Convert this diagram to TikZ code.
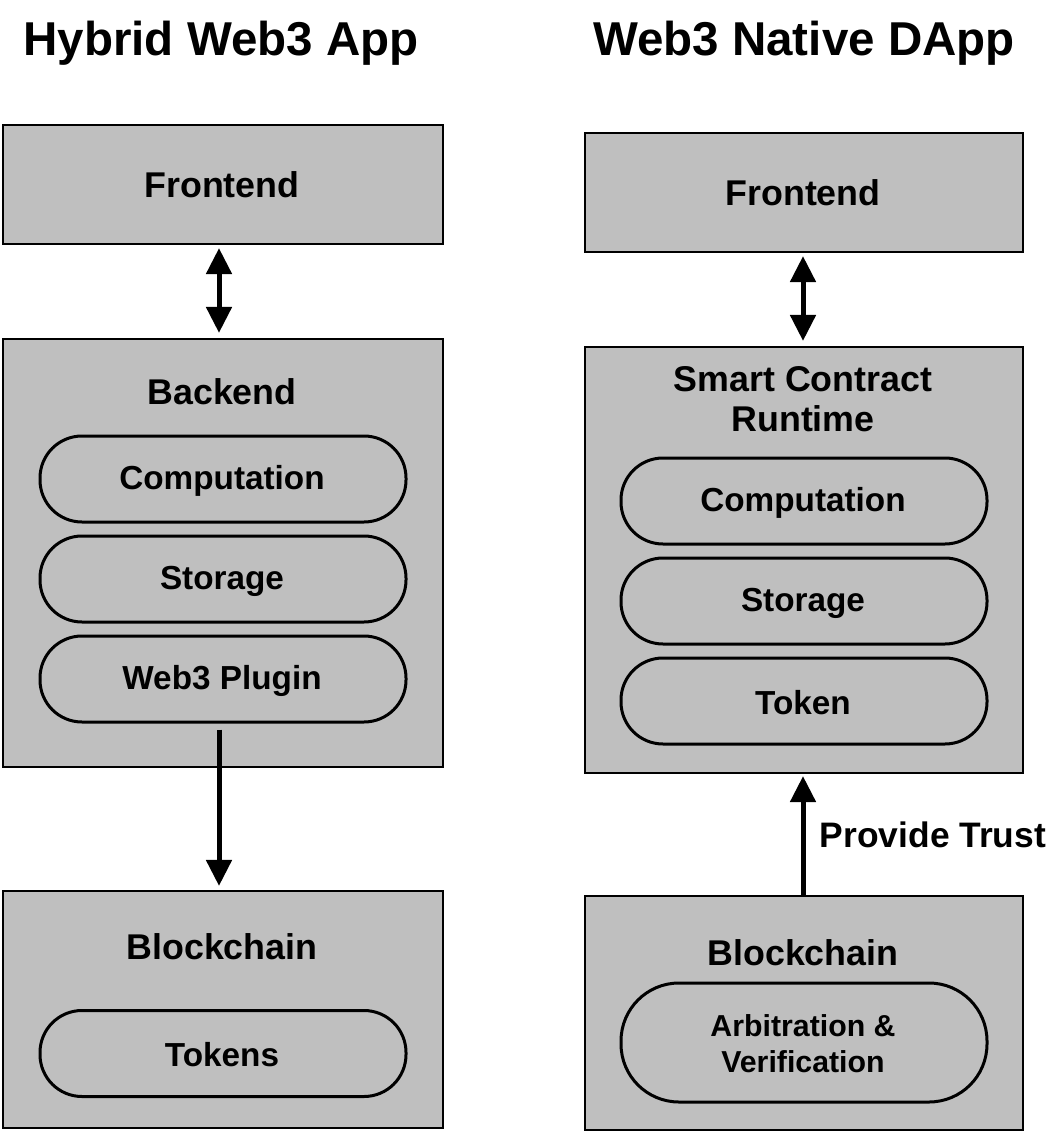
\documentclass[tikz,border=0pt]{standalone}
\usepackage{fontspec}
\setmainfont{Liberation Sans}
\usetikzlibrary{arrows.meta}
\definecolor{boxgray}{HTML}{BFBFBF}
\begin{document}
\begin{tikzpicture}[x=1pt,y=-1pt,
  box/.style={draw=black, line width=2.2pt, fill=boxgray, inner sep=0pt},
  pill/.style={draw=black, line width=3pt, fill=boxgray, rounded corners=42pt, minimum width=366pt, inner sep=0pt, align=center},
  ttl/.style={font=\fontsize{47.5}{52}\selectfont\bfseries},
  lbl/.style={font=\fontsize{35.8}{40}\selectfont\bfseries, align=center},
  ptxt/.style={font=\fontsize{33.3}{38}\selectfont\bfseries},
  arr/.style={line width=5pt, -{Triangle[width=25pt,length=26pt]}},
  darr/.style={line width=5pt, {Triangle[width=25pt,length=26pt]}-{Triangle[width=25pt,length=26pt]}}
]
\useasboundingbox (0,0) rectangle (1058,1134);
% titles
\node[ttl] (tL) at (221,43) {Hybrid Web3 App};
\node[ttl] (tR) at (804,43) {Web3 Native DApp};
% left column
\node[box, minimum width=440pt, minimum height=119pt] (feL) at (223,184.5) {};
\node[lbl] (feLt) at (222,185) {Frontend};
\node[box, minimum width=440pt, minimum height=428pt] (beL) at (223,553) {};
\node[lbl] (beLt) at (222,392) {Backend};
\node[pill, minimum height=86pt] (p1) at (223,479) {};
\node[ptxt] (p1t) at (222,481) {Computation};
\node[pill, minimum height=86pt] (p2) at (223,579) {};
\node[ptxt] (p2t) at (222,581) {Storage};
\node[pill, minimum height=86pt] (p3) at (223,679) {};
\node[ptxt] (p3t) at (222,681) {Web3 Plugin};
\node[box, minimum width=440pt, minimum height=237pt] (bcL) at (223,1009.5) {};
\node[lbl] (bcLt) at (222,947) {Blockchain};
\node[pill, minimum height=86pt] (p4) at (223,1053.5) {};
\node[ptxt] (p4t) at (222,1055) {Tokens};
% right column
\node[box, minimum width=438pt, minimum height=119pt] (feR) at (804,192.5) {};
\node[lbl] (feRt) at (803,193) {Frontend};
\node[box, minimum width=438pt, minimum height=426pt] (scR) at (804,560) {};
\node[lbl] (scRt) at (803,399) {Smart Contract\\Runtime};
\node[pill, minimum height=86pt] (q1) at (804,501) {};
\node[ptxt] (q1t) at (803,503) {Computation};
\node[pill, minimum height=86pt] (q2) at (804,601) {};
\node[ptxt] (q2t) at (803,603) {Storage};
\node[pill, minimum height=86pt] (q3) at (804,701) {};
\node[ptxt] (q3t) at (803,703) {Token};
\node[box, minimum width=438pt, minimum height=234pt] (bcR) at (804,1013) {};
\node[lbl] (bcRt) at (803,953) {Blockchain};
\node[pill, minimum height=119pt, rounded corners=58pt] (q4) at (804,1042.5) {};
\node[font=\fontsize{30.3}{36}\selectfont\bfseries, align=center] (q4t) at (803,1044) {Arbitration \&\\Verification};
% connectors
\draw[darr, shorten <=3pt, shorten >=5pt] ([xshift=-4pt]feL.south) -- ([xshift=-4pt]beL.north);
\draw[arr, shorten <=6pt, shorten >=4pt] ([xshift=-4pt]p3.south) -- ([xshift=-4pt]bcL.north);
\draw[darr, shorten <=3pt, shorten >=5pt] ([xshift=-1pt]feR.south) -- ([xshift=-1pt]scR.north);
\draw[arr, shorten >=2pt] ([xshift=-1pt]bcR.north) -- node[right=11pt, font=\fontsize{35.4}{40}\selectfont\bfseries] (pt) {Provide Trust} ([xshift=-1pt]scR.south);
\end{tikzpicture}
\end{document}
